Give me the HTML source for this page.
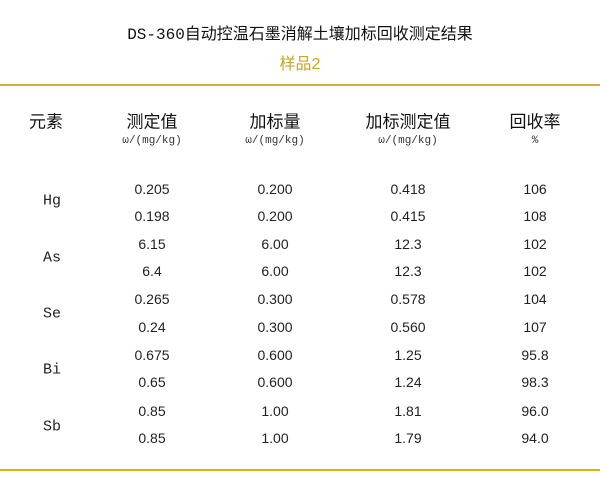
<!DOCTYPE html>
<html><head><meta charset="utf-8"><style>
body{margin:0;width:600px;height:491px;background:#fff;position:relative;overflow:hidden;font-family:"Liberation Sans","Noto Sans CJK SC",sans-serif;color:#222}
.a{position:absolute;transform:translate(-50%,-50%);white-space:nowrap}
.t{font-size:16px;color:#111}
.h{font-size:17px;color:#111}
.s{font-size:11px;font-family:"Liberation Mono","Noto Sans CJK SC",monospace;color:#333}
.n{font-size:14px}
.e{font-size:15px;font-family:"Liberation Mono",monospace}
.line{position:absolute;left:0;width:600px;height:2px}
</style></head><body>
<div class="a t" style="left:300px;top:32px"><span style="font-family:'Liberation Mono',monospace">DS-360</span>自动控温石墨消解土壤加标回收测定结果</div>
<div class="a" style="left:300px;top:62px;font-size:16px;color:#c9a51f">样品2</div>
<div class="line" style="top:84px;background:#cfae3a;height:1.5px"></div>
<div class="a h" style="left:46px;top:120px">元素</div>
<div class="a h" style="left:152px;top:120px">测定值</div>
<div class="a h" style="left:275px;top:120px">加标量</div>
<div class="a h" style="left:408px;top:120px">加标测定值</div>
<div class="a h" style="left:535px;top:120px">回收率</div>
<div class="a s" style="left:152px;top:141px">ω/(mg/kg)</div>
<div class="a s" style="left:275px;top:141px">ω/(mg/kg)</div>
<div class="a s" style="left:408px;top:141px">ω/(mg/kg)</div>
<div class="a s" style="left:535px;top:141px">%</div>

<div class="a e" style="left:52px;top:201px">Hg</div>
<div class="a e" style="left:52px;top:258px">As</div>
<div class="a e" style="left:52px;top:314px">Se</div>
<div class="a e" style="left:52px;top:370px">Bi</div>
<div class="a e" style="left:52px;top:427px">Sb</div>

<div class="a n" style="left:152px;top:189px">0.205</div><div class="a n" style="left:275px;top:189px">0.200</div><div class="a n" style="left:408px;top:189px">0.418</div><div class="a n" style="left:535px;top:189px">106</div>
<div class="a n" style="left:152px;top:216px">0.198</div><div class="a n" style="left:275px;top:216px">0.200</div><div class="a n" style="left:408px;top:216px">0.415</div><div class="a n" style="left:535px;top:216px">108</div>
<div class="a n" style="left:152px;top:244px">6.15</div><div class="a n" style="left:275px;top:244px">6.00</div><div class="a n" style="left:408px;top:244px">12.3</div><div class="a n" style="left:535px;top:244px">102</div>
<div class="a n" style="left:152px;top:271px">6.4</div><div class="a n" style="left:275px;top:271px">6.00</div><div class="a n" style="left:408px;top:271px">12.3</div><div class="a n" style="left:535px;top:271px">102</div>
<div class="a n" style="left:152px;top:299px">0.265</div><div class="a n" style="left:275px;top:299px">0.300</div><div class="a n" style="left:408px;top:299px">0.578</div><div class="a n" style="left:535px;top:299px">104</div>
<div class="a n" style="left:152px;top:327px">0.24</div><div class="a n" style="left:275px;top:327px">0.300</div><div class="a n" style="left:408px;top:327px">0.560</div><div class="a n" style="left:535px;top:327px">107</div>
<div class="a n" style="left:152px;top:355px">0.675</div><div class="a n" style="left:275px;top:355px">0.600</div><div class="a n" style="left:408px;top:355px">1.25</div><div class="a n" style="left:535px;top:355px">95.8</div>
<div class="a n" style="left:152px;top:382px">0.65</div><div class="a n" style="left:275px;top:382px">0.600</div><div class="a n" style="left:408px;top:382px">1.24</div><div class="a n" style="left:535px;top:382px">98.3</div>
<div class="a n" style="left:152px;top:411px">0.85</div><div class="a n" style="left:275px;top:411px">1.00</div><div class="a n" style="left:408px;top:411px">1.81</div><div class="a n" style="left:535px;top:411px">96.0</div>
<div class="a n" style="left:152px;top:438px">0.85</div><div class="a n" style="left:275px;top:438px">1.00</div><div class="a n" style="left:408px;top:438px">1.79</div><div class="a n" style="left:535px;top:438px">94.0</div>

<div class="line" style="top:469px;background:#d6b800"></div>
</body></html>
